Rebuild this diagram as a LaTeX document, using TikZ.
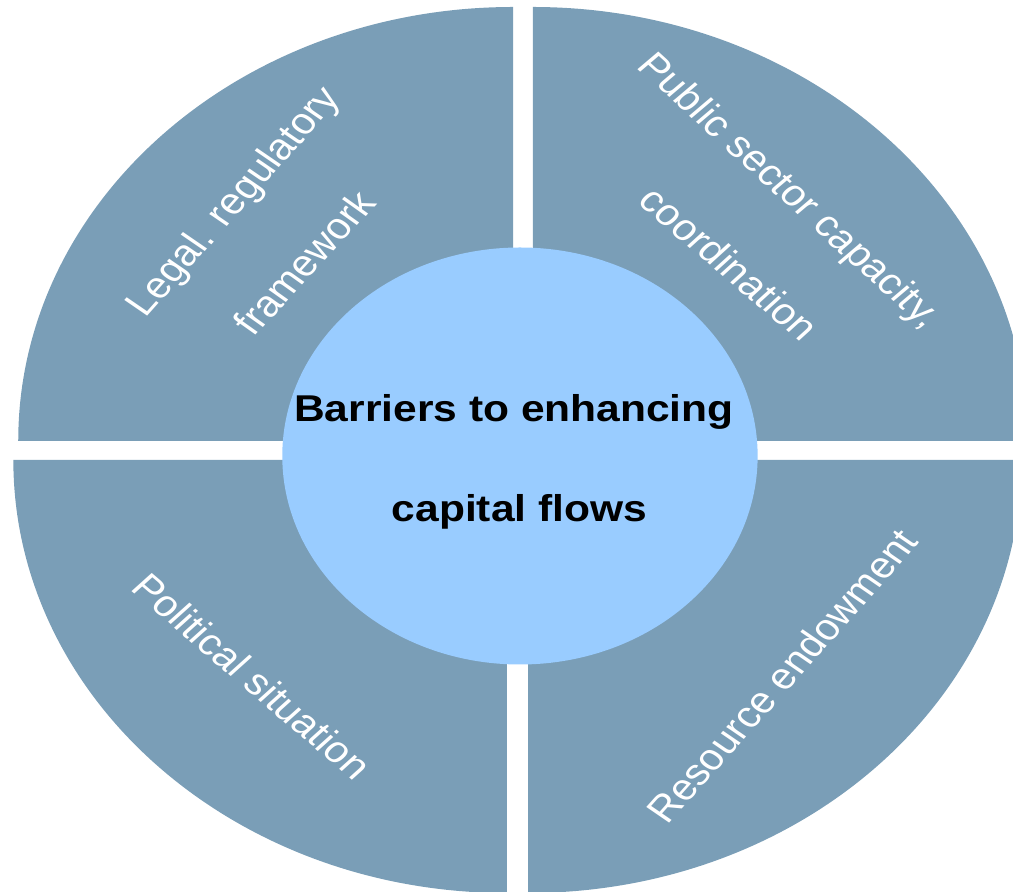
\documentclass[tikz,border=0pt]{standalone}
\usepackage{fontspec}
\setmainfont{Liberation Sans}
\definecolor{quadfill}{RGB}{122,158,183}
\definecolor{hubfill}{RGB}{153,204,255}
\begin{document}
\begin{tikzpicture}[x=1pt,y=1pt,xscale=1.14,
  every node/.style={transform shape},
  quadrant/.style={fill=quadfill, draw=none},
  qtext/.style={text=white, font=\fontsize{37}{44}\selectfont, inner sep=0pt},
  hubtext/.style={text=black, font=\fontsize{37.3}{44}\selectfont\bfseries, inner sep=0pt, anchor=base}]
\useasboundingbox (0,0) rectangle (888.6,892);
\begin{scope}
\clip (0,0) rectangle (888.6,892);
% four quarter discs, slightly offset from each other
\fill[quadrant] (450,451) -- (16,451) arc[start angle=180,end angle=90,radius=434] -- cycle;
\fill[quadrant] (467.5,451) -- (467.5,885) arc[start angle=90,end angle=0,radius=434] -- cycle;
\fill[quadrant] (444.7,432) -- (444.7,-1) arc[start angle=270,end angle=180,radius=433] -- cycle;
\fill[quadrant] (463.2,432) -- (896.2,432) arc[start angle=0,end angle=-90,radius=433] -- cycle;
% central hub
\node[circle, fill=hubfill, minimum size=417pt, inner sep=0pt] (hub) at (456.1,436) {};
\node[hubtext] (hubA) at (450.9,470) {Barriers to enhancing};
\node[hubtext] (hubB) at (455.7,370) {capital flows};
% quadrant labels
\node[qtext, rotate=52] (legalA) at (206.1,689.5) {Legal. regulatory};
\node[qtext, rotate=51] (legalB) at (266.7,629.5) {framework};
\node[qtext, rotate=-46] (publicA) at (691.2,700) {Public sector capacity,};
\node[qtext, rotate=-44] (publicB) at (639.9,628.5) {coordination};
\node[qtext, rotate=-44.3] (political) at (221.1,216) {Political situation};
\node[qtext, rotate=52] (resource) at (686,216) {Resource endowment};
\end{scope}
\end{tikzpicture}
\end{document}
